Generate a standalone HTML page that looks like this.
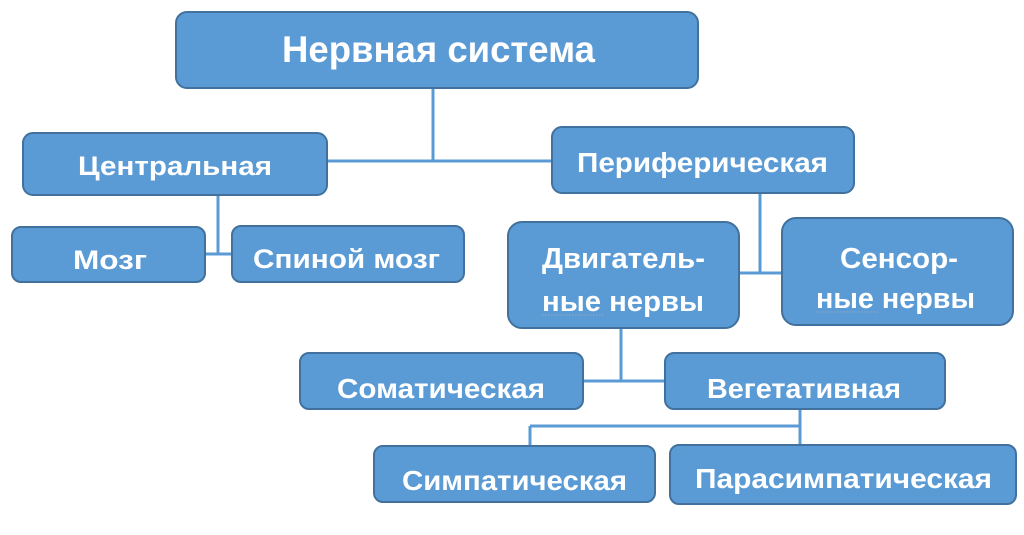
<!DOCTYPE html>
<html>
<head>
<meta charset="utf-8">
<style>
html,body{margin:0;padding:0;background:#fff;}
svg{display:block;}
text{font-family:"Liberation Sans","DejaVu Sans",sans-serif;font-weight:bold;fill:#fff;}
</style>
</head>
<body>
<svg width="1024" height="535" viewBox="0 0 1024 535" xmlns="http://www.w3.org/2000/svg">
<rect width="1024" height="535" fill="#fff"/>
<g stroke="#5b9bd5" stroke-width="3" fill="none">
  <line x1="433" y1="88" x2="433" y2="161"/>
  <line x1="327" y1="161" x2="552" y2="161"/>
  <line x1="218" y1="195" x2="218" y2="254"/>
  <line x1="205" y1="254" x2="232" y2="254"/>
  <line x1="760" y1="193" x2="760" y2="273"/>
  <line x1="739" y1="273" x2="782" y2="273"/>
  <line x1="621" y1="328" x2="621" y2="381"/>
  <line x1="583" y1="381" x2="665" y2="381"/>
  <line x1="800" y1="409" x2="800" y2="445"/>
  <line x1="530" y1="426" x2="800" y2="426"/>
  <line x1="530" y1="426" x2="530" y2="446"/>
</g>
<g fill="#5b9bd5" stroke="#41719c" stroke-width="2">
  <rect x="176" y="12" width="522" height="76" rx="11"/>
  <rect x="23" y="133" width="304" height="62" rx="10"/>
  <rect x="552" y="127" width="302" height="66" rx="10"/>
  <rect x="12" y="227" width="193" height="55" rx="9"/>
  <rect x="232" y="226" width="232" height="56" rx="9"/>
  <rect x="508" y="222" width="231" height="106" rx="14"/>
  <rect x="782" y="218" width="231" height="107" rx="14"/>
  <rect x="300" y="353" width="283" height="56" rx="9"/>
  <rect x="665" y="353" width="280" height="56" rx="9"/>
  <rect x="374" y="446" width="281" height="56" rx="9"/>
  <rect x="670" y="445" width="346" height="59" rx="9"/>
</g>
<text x="282" y="62" font-size="37" textLength="313" lengthAdjust="spacingAndGlyphs">Нервная система</text>
<text x="78" y="175" font-size="27" textLength="194" lengthAdjust="spacingAndGlyphs">Центральная</text>
<text x="577" y="172" font-size="28" textLength="251" lengthAdjust="spacingAndGlyphs">Периферическая</text>
<text x="73" y="269" font-size="27" textLength="74" lengthAdjust="spacingAndGlyphs">Мозг</text>
<text x="253" y="268" font-size="27" textLength="187" lengthAdjust="spacingAndGlyphs">Спиной мозг</text>
<text x="542" y="268" font-size="29" textLength="163" lengthAdjust="spacingAndGlyphs">Двигатель-</text>
<text x="542" y="311" font-size="29" textLength="162" lengthAdjust="spacingAndGlyphs">ные нервы</text>
<text x="840" y="268" font-size="29" textLength="118" lengthAdjust="spacingAndGlyphs">Сенсор-</text>
<text x="816" y="308" font-size="29" textLength="159" lengthAdjust="spacingAndGlyphs">ные нервы</text>
<text x="337" y="398" font-size="28" textLength="208" lengthAdjust="spacingAndGlyphs">Соматическая</text>
<text x="707" y="398" font-size="28" textLength="194" lengthAdjust="spacingAndGlyphs">Вегетативная</text>
<text x="402" y="490" font-size="28" textLength="225" lengthAdjust="spacingAndGlyphs">Симпатическая</text>
<text x="695" y="488" font-size="28" textLength="297" lengthAdjust="spacingAndGlyphs">Парасимпатическая</text>
<g stroke="#8fa8c8" stroke-width="1" stroke-dasharray="1.5,1.5">
  <line x1="542" y1="315" x2="604" y2="315"/>
  <line x1="816" y1="312" x2="878" y2="312"/>
</g>
</svg>
</body>
</html>
